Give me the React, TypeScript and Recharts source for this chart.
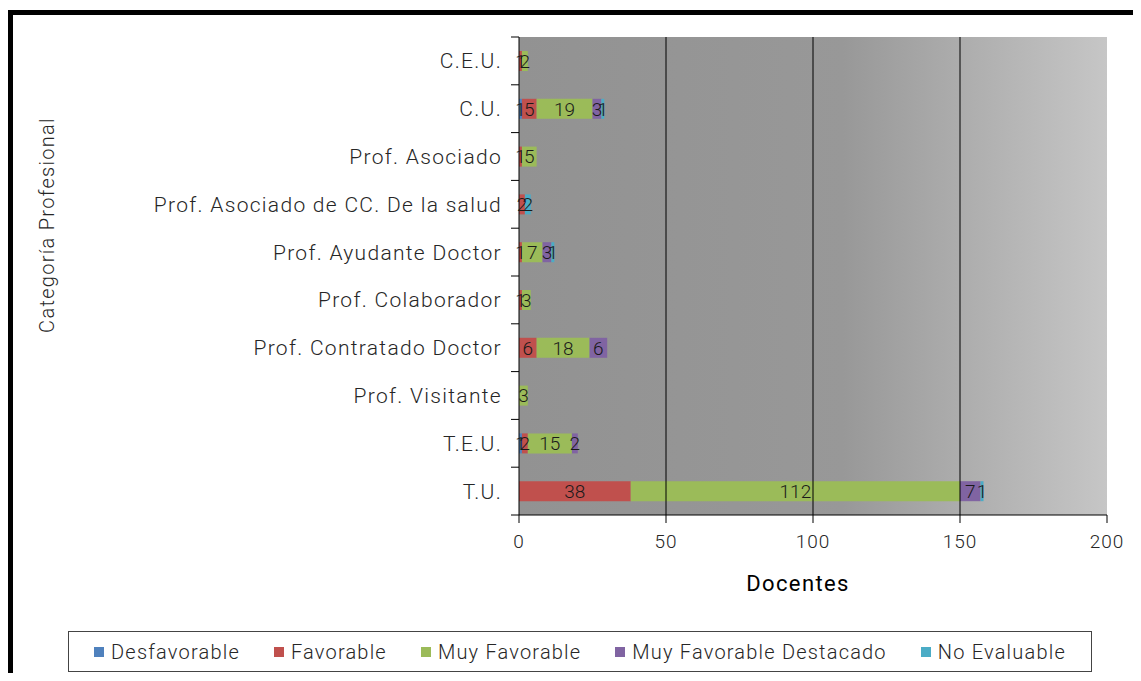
import React from 'react';
import { BarChart, Bar, XAxis, YAxis, CartesianGrid, ReferenceLine, LabelList } from 'recharts';

const categories = [
    'C.E.U.',
    'C.U.',
    'Prof. Asociado',
    'Prof. Asociado de CC. De la salud',
    'Prof. Ayudante Doctor',
    'Prof. Colaborador',
    'Prof. Contratado Doctor',
    'Prof. Visitante',
    'T.E.U.',
    'T.U.',
];
const desfavorable = [0, 1, 0, 0, 0, 0, 0, 0, 1, 0];
const favorable = [1, 5, 1, 2, 1, 1, 6, 0, 2, 38];
const muyFavorable = [2, 19, 5, 0, 7, 3, 18, 3, 15, 112];
const muyFavorableDestacado = [0, 3, 0, 0, 3, 0, 6, 0, 2, 7];
const noEvaluable = [0, 1, 0, 2, 1, 0, 0, 0, 0, 1];

const xTicks = [0, 50, 100, 150, 200];
const gridLines = [50, 100, 150];

const series = [
    { key: 'Desfavorable', values: desfavorable, color: '#4F81BD' },
    { key: 'Favorable', values: favorable, color: '#C0504D' },
    { key: 'Muy Favorable', values: muyFavorable, color: '#9BBB59' },
    { key: 'Muy Favorable Destacado', values: muyFavorableDestacado, color: '#8064A2' },
    { key: 'No Evaluable', values: noEvaluable, color: '#4BACC6' },
];

const chartData = categories.map((name, i) => {
    const row: { [key: string]: string | number } = { name };
    series.forEach(s => {
        row[s.key] = s.values[i];
    });
    return row;
});

const FONT = 'Roboto, "DejaVu Sans", sans-serif';
const TEXT = '#262626';

const CHART_W = 1120;
const CHART_H = 600;
const MARGIN = { top: 22, right: 26, bottom: 20, left: 0 };
const X_AXIS_H = 80;
const PLOT_H = CHART_H - MARGIN.top - MARGIN.bottom - X_AXIS_H;
const HALF_BAND = PLOT_H / categories.length / 2;

// category label plus Excel-style tick marks on the band edges
const CategoryTick = (props: any) => {
    const { x, y, payload, index } = props;
    return (
        <g>
            <line x1={x + 9} x2={x + 17} y1={y + HALF_BAND} y2={y + HALF_BAND} stroke="#000" />
            {index === 0 && <line x1={x + 9} x2={x + 17} y1={y - HALF_BAND} y2={y - HALF_BAND} stroke="#000" />}
            <text
                x={x}
                y={y}
                dy="0.36em"
                textAnchor="end"
                fill={TEXT}
                fontSize={21}
                fontWeight={300}
                fontFamily={FONT}
                letterSpacing={1.3}
            >
                {payload.value}
            </text>
        </g>
    );
};

const App: React.FC = () => {
    return (
        <div
            style={{
                position: 'relative',
                top: 2,
                width: 1125,
                height: 660,
                borderTop: '5px solid #000',
                borderLeft: '5px solid #000',
                fontFamily: FONT,
                background: '#fff',
            }}
        >
            <style>{'html,body{overflow:hidden;}'}</style>
            <svg width={0} height={0} style={{ position: 'absolute' }}>
                <defs>
                    <linearGradient id="plotBg" x1="0" y1="0" x2="1" y2="0">
                        <stop offset="0%" stopColor="#929292" />
                        <stop offset="55%" stopColor="#989898" />
                        <stop offset="100%" stopColor="#c6c6c6" />
                    </linearGradient>
                </defs>
            </svg>

            <BarChart
                width={CHART_W}
                height={CHART_H}
                data={chartData}
                layout="vertical"
                barSize={20}
                margin={MARGIN}
            >
                <CartesianGrid horizontal={false} vertical={false} fill="url(#plotBg)" fillOpacity={1} />
                {gridLines.map(v => (
                    <ReferenceLine key={v} x={v} stroke="#000" strokeWidth={1} />
                ))}
                <XAxis
                    type="number"
                    domain={[0, 200]}
                    ticks={xTicks}
                    height={X_AXIS_H}
                    stroke="#000"
                    tickSize={8}
                    tickMargin={12}
                    tick={{ fill: TEXT, fontSize: 19, fontWeight: 300, fontFamily: FONT, letterSpacing: 1 }}
                    label={{
                        value: 'Docentes',
                        position: 'insideBottom',
                        offset: 4,
                        dx: -15,
                        fill: '#000',
                        fontSize: 22,
                        fontWeight: 400,
                        fontFamily: FONT,
                        letterSpacing: 1.4,
                    }}
                />
                <YAxis
                    type="category"
                    dataKey="name"
                    width={506}
                    stroke="#000"
                    tickLine={false}
                    tickSize={0}
                    tickMargin={17}
                    interval={0}
                    tick={<CategoryTick />}
                />
                {series.map(s => (
                    <Bar key={s.key} dataKey={s.key} stackId="a" fill={s.color} isAnimationActive={false}>
                        <LabelList
                            dataKey={s.key}
                            position="center"
                            formatter={(v: any) => (v ? v : '')}
                            fill="#1a1a1a"
                            fontSize={19}
                            fontWeight={300}
                            fontFamily={FONT}
                        />
                    </Bar>
                ))}
            </BarChart>

            <div
                style={{
                    position: 'absolute',
                    left: 23,
                    top: 100,
                    width: 22,
                    height: 220,
                    display: 'flex',
                    alignItems: 'center',
                    justifyContent: 'center',
                }}
            >
                <div
                    style={{
                        transform: 'rotate(-90deg)',
                        whiteSpace: 'nowrap',
                        fontSize: 20,
                        fontWeight: 300,
                        letterSpacing: 1.3,
                        color: TEXT,
                    }}
                >
                    Categoría Profesional
                </div>
            </div>

            <div
                style={{
                    position: 'absolute',
                    left: 55,
                    top: 616,
                    width: 1022,
                    height: 39,
                    border: '1px solid #444',
                    display: 'flex',
                    alignItems: 'center',
                    justifyContent: 'center',
                    gap: 34,
                    fontSize: 20,
                    fontWeight: 300,
                    letterSpacing: 1.2,
                    color: TEXT,
                }}
            >
                {series.map(s => (
                    <div key={s.key} style={{ display: 'flex', alignItems: 'center' }}>
                        <span style={{ width: 10, height: 10, background: s.color, marginRight: 7 }} />
                        <span>{s.key}</span>
                    </div>
                ))}
            </div>
        </div>
    );
};

export default App;
